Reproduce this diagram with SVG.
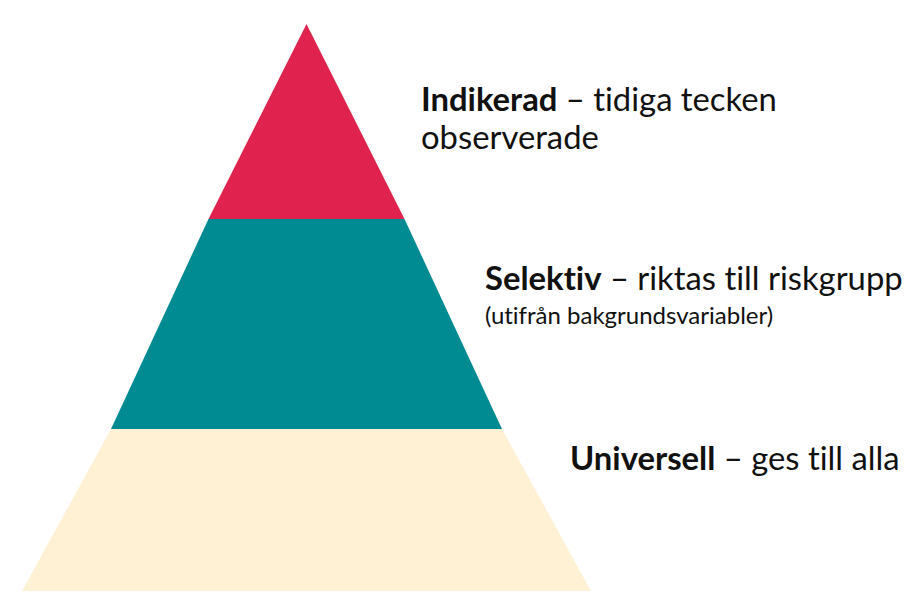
<svg xmlns="http://www.w3.org/2000/svg" width="920" height="606" viewBox="0 0 920 606">
<style>
.t{font-family:Lato,"Liberation Sans",sans-serif;fill:#111;font-size:32.8px;font-variant-ligatures:none;font-feature-settings:"liga" 0}
.b{font-weight:bold}
.s{font-size:24px}
</style>
<rect width="920" height="606" fill="#fff"/>
<g id="universell">
<polygon points="111,429 502,429 591,591 22,591" fill="#FFF2D4"/>
<text class="t" x="570" y="470"><tspan class="b">Universell</tspan> – ges till alla</text>
</g>
<g id="selektiv">
<polygon points="208.5,219 404.5,219 502,429 111,429" fill="#008A91"/>
<text class="t" x="485" y="290"><tspan class="b">Selektiv</tspan> – riktas till riskgrupp</text>
<text class="t s" x="485" y="324">(utifrån bakgrundsvariabler)</text>
</g>
<g id="indikerad">
<polygon points="306.5,24 404.5,219 208.5,219" fill="#E0234E"/>
<text class="t" x="421" y="111"><tspan class="b">Indikerad</tspan> – tidiga tecken</text>
<text class="t" x="421" y="149">observerade</text>
</g>
</svg>
